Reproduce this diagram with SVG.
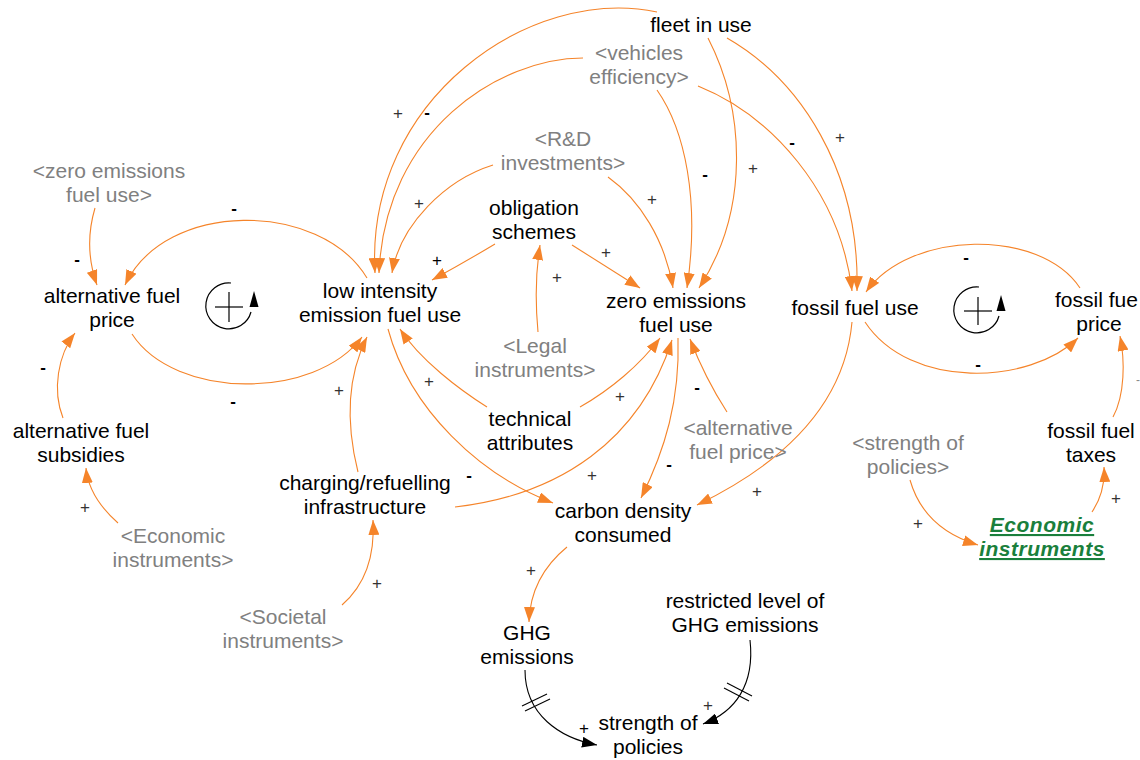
<svg xmlns="http://www.w3.org/2000/svg" width="1140" height="760" viewBox="0 0 1140 760">
<defs>
<style>
.n{font-family:"Liberation Sans",Arial,sans-serif;font-size:21px;fill:#000;text-anchor:middle}
.g{fill:#808080}
.e{fill:#1a7f3c;font-weight:bold;font-style:italic;text-decoration:underline;letter-spacing:0.5px}
.c{fill:none;stroke:#f5842a;stroke-width:1.1;marker-end:url(#a)}
.k{fill:none;stroke:#000;stroke-width:1.1;marker-end:url(#b)}
.p{font-family:"Liberation Sans",Arial,sans-serif;font-size:17px;fill:#333;text-anchor:middle}
.m{font-family:"Liberation Sans",Arial,sans-serif;font-size:17px;font-weight:bold;fill:#000;text-anchor:middle}
.d{stroke:#000;stroke-width:1.1}
.l{fill:none;stroke:#000;stroke-width:1.2}
</style>
<marker id="a" markerUnits="userSpaceOnUse" markerWidth="15" markerHeight="11" viewBox="0 0 15 11" refX="15" refY="5.5" orient="auto"><path d="M0,0 L15,5.5 L0,11 z" fill="#f5842a"/></marker>
<marker id="b" markerUnits="userSpaceOnUse" markerWidth="15" markerHeight="11" viewBox="0 0 15 11" refX="15" refY="5.5" orient="auto"><path d="M0,0 L15,5.5 L0,11 z" fill="#000"/></marker>
</defs>
<rect width="1140" height="760" fill="#fff"/>
<g id="connectors">
<path class="c" d="M657,12 C530,-15 365,100 375,273"/>
<path class="c" d="M583,58 C500,58 385,130 379,273"/>
<path class="c" d="M493,165 C445,180 400,225 392,273"/>
<path class="c" d="M495,244 Q465,262 432,280"/>
<path class="c" d="M95,208 C87,235 88,260 97,285"/>
<path class="c" d="M367,278 C320,200 165,200 125,285"/>
<path class="c" d="M132,334 C175,400 315,400 362,337"/>
<path class="c" d="M63,418 C52,390 58,355 75,333"/>
<path class="c" d="M118,523 C100,507 88,490 86,468"/>
<path class="c" d="M358,472 C345,420 348,375 367,337"/>
<path class="c" d="M342,605 C365,585 375,555 373,520"/>
<path class="c" d="M487,407 C460,390 420,360 400,329"/>
<path class="c" d="M608,177 C640,200 665,240 673,288"/>
<path class="c" d="M657,90 C685,130 700,200 687,288"/>
<path class="c" d="M708,38 C745,110 750,210 699,288"/>
<path class="c" d="M698,86 C770,115 840,190 852,291"/>
<path class="c" d="M727,38 C800,80 860,170 857,291"/>
<path class="c" d="M572,245 L640,288"/>
<path class="c" d="M538,332 C535,300 536,270 540,245"/>
<path class="c" d="M580,407 C610,390 640,365 660,338"/>
<path class="c" d="M455,507 C560,495 640,440 672,340"/>
<path class="c" d="M727,412 Q705,378 690,339"/>
<path class="c" d="M678,338 C680,400 665,450 641,498"/>
<path class="c" d="M388,329 C410,410 480,475 553,503"/>
<path class="c" d="M852,322 C845,400 790,460 697,505"/>
<path class="c" d="M567,547 C545,565 530,590 529,622"/>
<path class="c" d="M865,322 C910,390 1030,385 1078,338"/>
<path class="c" d="M1080,288 C1040,228 910,230 866,292"/>
<path class="c" d="M1113,417 C1125,395 1125,360 1120,336"/>
<path class="c" d="M1092,512 C1100,500 1105,485 1104,467"/>
<path class="c" d="M910,480 C920,515 945,535 978,545"/>
<path class="k" d="M525,670 C525,715 560,738 597,745"/>
<path class="k" d="M750,640 C755,685 735,712 703,724"/>
<line class="d" x1="522" y1="706" x2="547" y2="694"/>
<line class="d" x1="525" y1="711" x2="550" y2="699"/>
<line class="d" x1="727" y1="683" x2="752" y2="696"/>
<line class="d" x1="724" y1="688" x2="749" y2="701"/>
<text class="p" x="398" y="119">+</text>
<text class="m" x="427" y="118">-</text>
<text class="p" x="419" y="209">+</text>
<text class="p" x="437" y="266" style="fill:#000">+</text>
<text class="m" x="234" y="214">-</text>
<text class="m" x="77" y="265">-</text>
<text class="m" x="233" y="407">-</text>
<text class="m" x="43" y="373">-</text>
<text class="p" x="85" y="513">+</text>
<text class="p" x="339" y="396">+</text>
<text class="p" x="429" y="387">+</text>
<text class="p" x="377" y="589">+</text>
<text class="p" x="652" y="205">+</text>
<text class="p" x="606" y="258">+</text>
<text class="p" x="557" y="283">+</text>
<text class="m" x="705" y="180">-</text>
<text class="p" x="753" y="174">+</text>
<text class="m" x="792" y="148">-</text>
<text class="p" x="840" y="143">+</text>
<text class="p" x="620" y="402">+</text>
<text class="m" x="697" y="393">-</text>
<text class="m" x="469" y="481">-</text>
<text class="p" x="592" y="481">+</text>
<text class="m" x="669" y="470">-</text>
<text class="p" x="757" y="497">+</text>
<text class="m" x="966" y="263">-</text>
<text class="m" x="978" y="370">-</text>
<text class="p" x="1138" y="384" style="fill:#888;font-size:12px">-</text>
<text class="p" x="1116" y="504">+</text>
<text class="p" x="918" y="529">+</text>
<text class="p" x="531" y="576">+</text>
<text class="p" x="708" y="711">+</text>
<text class="p" x="584" y="734" style="fill:#000">+</text>
</g>
<g id="loop-left">
<path class="l" d="M231,283 A23,23 0 1 0 251,312"/>
<polygon points="254,291 249.5,307 258.5,307" fill="#000"/>
<line class="l" x1="215" y1="307" x2="243" y2="307"/>
<line class="l" x1="229" y1="292" x2="229" y2="322"/>
</g>
<g id="loop-right">
<path class="l" d="M979,287 A23,23 0 1 0 999,316"/>
<polygon points="1001,295 996.5,311 1005.5,311" fill="#000"/>
<line class="l" x1="964" y1="311" x2="992" y2="311"/>
<line class="l" x1="978" y1="297" x2="978" y2="325"/>
</g>
<g id="fleet-in-use"><text class="n" x="701" y="32">fleet in use</text></g>
<g id="vehicles-efficiency"><text class="n g" x="639" y="60">&lt;vehicles</text><text class="n g" x="639" y="84">efficiency&gt;</text></g>
<g id="rd-investments"><text class="n g" x="563" y="146">&lt;R&amp;D</text><text class="n g" x="563" y="170">investments&gt;</text></g>
<g id="zero-emissions-shadow"><text class="n g" x="109" y="178">&lt;zero emissions</text><text class="n g" x="109" y="202">fuel use&gt;</text></g>
<g id="obligation-schemes"><text class="n" x="534" y="215">obligation</text><text class="n" x="534" y="239">schemes</text></g>
<g id="alternative-fuel-price"><text class="n" x="112" y="303">alternative fuel</text><text class="n" x="112" y="327">price</text></g>
<g id="low-intensity"><text class="n" x="380" y="298">low intensity</text><text class="n" x="380" y="322">emission fuel use</text></g>
<g id="zero-emissions-fuel-use"><text class="n" x="676" y="308">zero emissions</text><text class="n" x="676" y="332">fuel use</text></g>
<g id="fossil-fuel-use"><text class="n" x="855" y="315">fossil fuel use</text></g>
<g id="fossil-fuel-price"><text class="n" x="1055" y="307" style="text-anchor:start">fossil fue</text><text class="n" x="1099" y="331">price</text></g>
<g id="alternative-fuel-subsidies"><text class="n" x="81" y="438">alternative fuel</text><text class="n" x="81" y="462">subsidies</text></g>
<g id="technical-attributes"><text class="n" x="530" y="426">technical</text><text class="n" x="530" y="450">attributes</text></g>
<g id="legal-instruments"><text class="n g" x="535" y="353">&lt;Legal</text><text class="n g" x="535" y="377">instruments&gt;</text></g>
<g id="alternative-fuel-price-shadow"><text class="n g" x="738" y="435">&lt;alternative</text><text class="n g" x="738" y="459">fuel price&gt;</text></g>
<g id="charging-infrastructure"><text class="n" x="365" y="490">charging/refuelling</text><text class="n" x="365" y="514">infrastructure</text></g>
<g id="carbon-density"><text class="n" x="623" y="518">carbon density</text><text class="n" x="623" y="542">consumed</text></g>
<g id="economic-instruments-shadow"><text class="n g" x="173" y="543">&lt;Economic</text><text class="n g" x="173" y="567">instruments&gt;</text></g>
<g id="strength-of-policies-shadow"><text class="n g" x="908" y="450">&lt;strength of</text><text class="n g" x="908" y="474">policies&gt;</text></g>
<g id="fossil-fuel-taxes"><text class="n" x="1091" y="438">fossil fuel</text><text class="n" x="1091" y="462">taxes</text></g>
<g id="economic-instruments"><text class="n e" x="1042" y="532">Economic</text><text class="n e" x="1042" y="556">instruments</text></g>
<g id="ghg-emissions"><text class="n" x="527" y="640">GHG</text><text class="n" x="527" y="664">emissions</text></g>
<g id="restricted-level"><text class="n" x="745" y="608">restricted level of</text><text class="n" x="745" y="632">GHG emissions</text></g>
<g id="societal-instruments"><text class="n g" x="283" y="624">&lt;Societal</text><text class="n g" x="283" y="648">instruments&gt;</text></g>
<g id="strength-of-policies"><text class="n" x="648" y="730">strength of</text><text class="n" x="648" y="754">policies</text></g>
</svg>
